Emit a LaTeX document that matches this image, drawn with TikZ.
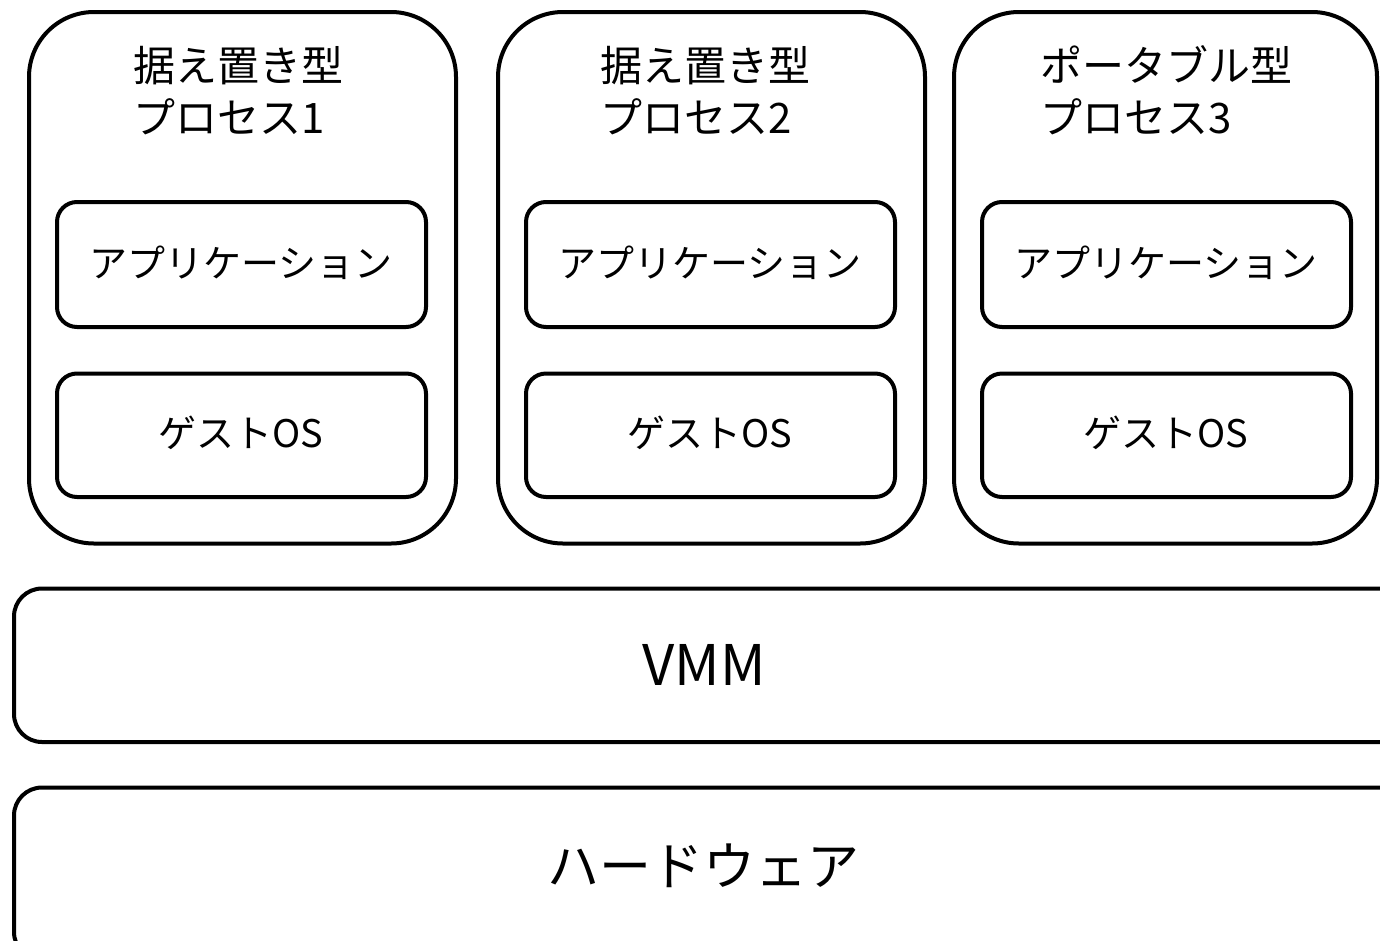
\documentclass[tikz,border=0pt]{standalone}
\usepackage{fontspec}
\setmainfont{Noto Sans CJK JP}
\begin{document}
\begin{tikzpicture}[x=1pt,y=-1pt,
  outerbox/.style={draw=black,line width=4pt,rounded corners=65pt,rectangle,inner sep=0pt},
  innerbox/.style={draw=black,line width=4pt,rounded corners=20pt,rectangle,inner sep=0pt},
  layerbox/.style={draw=black,line width=4pt,rounded corners=28pt,rectangle,inner sep=0pt},
  title/.style={anchor=base west,inner sep=0pt,font=\fontsize{42}{50}\selectfont},
  lbl/.style={anchor=base,inner sep=0pt,font=\fontsize{38}{46}\selectfont},
  biglbl/.style={anchor=base,inner sep=0pt,font=\fontsize{52}{60}\selectfont}]
\useasboundingbox (0,0) rectangle (1380,940);
\clip (0,0) rectangle (1380,940);
\fill[white] (0,0) rectangle (1380,940);
% process boxes
\draw[outerbox] (29,12) rectangle (456,543.5);
\draw[outerbox] (498,12) rectangle (925,543.5);
\draw[outerbox] (954,12) rectangle (1377,543.5);
\foreach \x/\n in {56/1,525/2,981/3}{
  \draw[innerbox] (\x+1,202) rectangle (\x+370,327);
  \draw[innerbox] (\x+1,373.5) rectangle (\x+370,497);
}
\draw[layerbox] (14,588.5) rectangle (1410,742);
\draw[layerbox] (14,787.5) rectangle (1410,960);
% titles
\node[title] (t1a) at (133,81) {据え置き型};
\node[title] (t1b) at (133,133) {プロセス1};
\node[title] (t2a) at (600,81) {据え置き型};
\node[title] (t2b) at (600,133) {プロセス2};
\node[title] (t3a) at (1040,81) {ポータブル型};
\node[title] (t3b) at (1040,133) {プロセス3};
% inner labels
\node[lbl] (a1) at (241,277) {アプリケーション};
\node[lbl] (a2) at (710,277) {アプリケーション};
\node[lbl] (a3) at (1166,277) {アプリケーション};
\node[lbl] (g1) at (241,447) {ゲストOS};
\node[lbl] (g2) at (710,447) {ゲストOS};
\node[lbl] (g3) at (1166,447) {ゲストOS};
\node[anchor=base,inner sep=0pt,font=\fontsize{56}{64}\selectfont] (vmm) at (704,685) {VMM};
\node[biglbl] (hw) at (703,885) {ハードウェア};
\end{tikzpicture}
\end{document}
